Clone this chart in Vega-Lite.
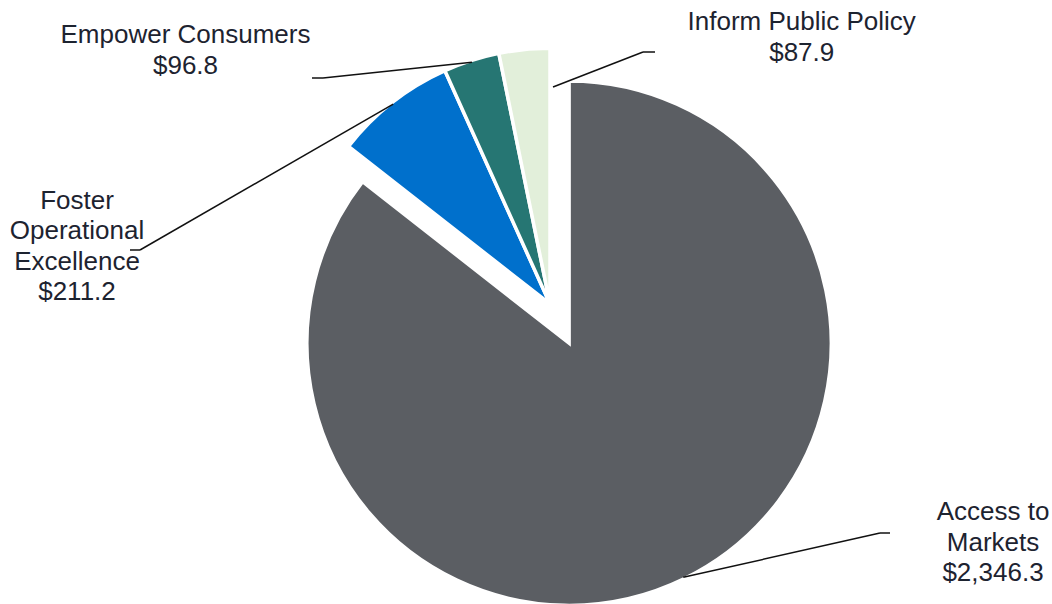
{
  "$schema": "https://vega.github.io/schema/vega-lite/v6.json",
  "width": 1052,
  "height": 604,
  "padding": 0,
  "autosize": {"type": "none"},
  "background": "white",
  "config": {"view": {"stroke": null}},
  "data": {
    "values": [
      {"category": "Access to Markets", "label": "Access to\nMarkets", "value": 2346.3},
      {"category": "Foster Operational Excellence", "label": "Foster\nOperational\nExcellence", "value": 211.2},
      {"category": "Empower Consumers", "label": "Empower Consumers", "value": 96.8},
      {"category": "Inform Public Policy", "label": "Inform Public Policy", "value": 87.9}
    ]
  },
  "transform": [
    {"window": [{"op": "sum", "field": "value", "as": "cum"}]},
    {"joinaggregate": [{"op": "sum", "field": "value", "as": "total"}]},
    {"calculate": "2*PI*datum.cum/datum.total", "as": "a1"},
    {"calculate": "datum.a1 - 2*PI*datum.value/datum.total", "as": "a0"},
    {"calculate": "(datum.a0 + datum.a1)/2", "as": "mid"},
    {"calculate": "datum.category === 'Access to Markets' ? 43.6 : 0", "as": "explode"},
    {"calculate": "datum.explode*sin(datum.mid)", "as": "cx"},
    {"calculate": "-datum.explode*cos(datum.mid)", "as": "cy"},
    {"calculate": "datum.category === 'Inform Public Policy' ? datum.a1 + 0.014 : datum.mid", "as": "sa"},
    {"calculate": "datum.category === 'Access to Markets' ? 260.5 : datum.category === 'Inform Public Policy' ? 217 : 254", "as": "sr"},
    {"calculate": "datum.cx + datum.sr*sin(datum.sa)", "as": "sx"},
    {"calculate": "datum.cy - datum.sr*cos(datum.sa)", "as": "sy"},
    {"calculate": "datum.category === 'Access to Markets' ? 330 : datum.category === 'Foster Operational Excellence' ? -410 : datum.category === 'Empower Consumers' ? -227 : 93", "as": "elx"},
    {"calculate": "datum.category === 'Access to Markets' ? 229 : datum.category === 'Foster Operational Excellence' ? -54 : datum.category === 'Empower Consumers' ? -226 : -252", "as": "ely"},
    {"calculate": "datum.category === 'Access to Markets' ? 340 : datum.category === 'Foster Operational Excellence' ? -420 : datum.category === 'Empower Consumers' ? -238 : 105", "as": "enx"},
    {"calculate": "datum.category === 'Access to Markets' ? 443 : datum.category === 'Foster Operational Excellence' ? -473 : datum.category === 'Empower Consumers' ? -364.5 : 251.7", "as": "tx"},
    {"calculate": "datum.category === 'Access to Markets' ? 216 : datum.category === 'Foster Operational Excellence' ? -95.5 : datum.category === 'Empower Consumers' ? -260.7 : -274", "as": "ty"},
    {"calculate": "datum.label + '\\n$' + format(datum.value, ',.1f')", "as": "txt"}
  ],
  "layer": [
    {
      "transform": [{"filter": "datum.category === 'Access to Markets'"}],
      "mark": {"type": "arc", "radius": 262.2, "stroke": "white", "strokeWidth": 3.5},
      "encoding": {
        "x": {"field": "cx", "type": "quantitative", "scale": {"domain": [-550, 502], "nice": false, "zero": false}, "axis": null},
        "y": {"field": "cy", "type": "quantitative", "scale": {"domain": [-304, 300], "reverse": true, "nice": false, "zero": false}, "axis": null},
        "theta": {"field": "a0", "type": "quantitative", "stack": null, "scale": {"domain": [0, 6.283185307179586], "range": [0, 6.283185307179586]}},
        "theta2": {"field": "a1"},
        "color": {"field": "category", "type": "nominal", "legend": null,
          "scale": {"domain": ["Access to Markets", "Foster Operational Excellence", "Empower Consumers", "Inform Public Policy"],
                    "range": ["#5B5E63", "#0070CC", "#267673", "#E2EFDA"]}}
      }
    },
    {
      "transform": [{"filter": "datum.category !== 'Access to Markets'"}],
      "mark": {"type": "arc", "radius": 255.8, "stroke": "white", "strokeWidth": 3.5},
      "encoding": {
        "x": {"field": "cx", "type": "quantitative", "scale": {"domain": [-550, 502], "nice": false, "zero": false}, "axis": null},
        "y": {"field": "cy", "type": "quantitative", "scale": {"domain": [-304, 300], "reverse": true, "nice": false, "zero": false}, "axis": null},
        "theta": {"field": "a0", "type": "quantitative", "stack": null, "scale": {"domain": [0, 6.283185307179586], "range": [0, 6.283185307179586]}},
        "theta2": {"field": "a1"},
        "color": {"field": "category", "type": "nominal", "legend": null,
          "scale": {"domain": ["Access to Markets", "Foster Operational Excellence", "Empower Consumers", "Inform Public Policy"],
                    "range": ["#5B5E63", "#0070CC", "#267673", "#E2EFDA"]}}
      }
    },
    {
      "mark": {"type": "rule", "color": "#111111", "strokeWidth": 1.5},
      "encoding": {
        "x": {"field": "sx", "type": "quantitative", "scale": {"domain": [-550, 502], "nice": false, "zero": false}, "axis": null},
        "y": {"field": "sy", "type": "quantitative", "scale": {"domain": [-304, 300], "reverse": true, "nice": false, "zero": false}, "axis": null},
        "x2": {"field": "elx"},
        "y2": {"field": "ely"}
      }
    },
    {
      "mark": {"type": "rule", "color": "#111111", "strokeWidth": 1.5},
      "encoding": {
        "x": {"field": "elx", "type": "quantitative", "scale": {"domain": [-550, 502], "nice": false, "zero": false}, "axis": null},
        "y": {"field": "ely", "type": "quantitative", "scale": {"domain": [-304, 300], "reverse": true, "nice": false, "zero": false}, "axis": null},
        "x2": {"field": "enx"},
        "y2": {"field": "ely"}
      }
    },
    {
      "mark": {"type": "text", "align": "center", "baseline": "alphabetic", "font": "Liberation Sans", "fontSize": 26, "lineHeight": 30.5, "lineBreak": "\n", "color": "#1d2330"},
      "encoding": {
        "x": {"field": "tx", "type": "quantitative", "scale": {"domain": [-550, 502], "nice": false, "zero": false}, "axis": null},
        "y": {"field": "ty", "type": "quantitative", "scale": {"domain": [-304, 300], "reverse": true, "nice": false, "zero": false}, "axis": null},
        "text": {"field": "txt"}
      }
    }
  ]
}
